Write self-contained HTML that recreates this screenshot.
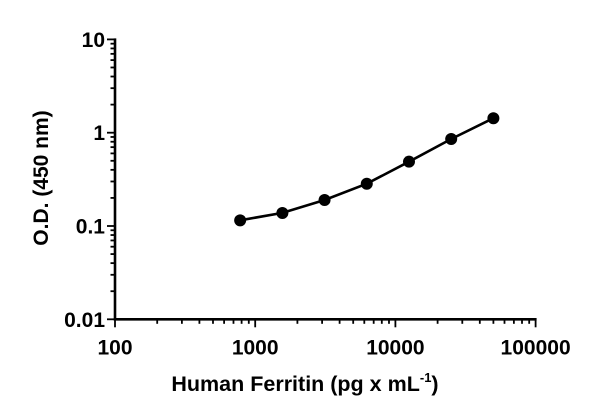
<!DOCTYPE html>
<html><head><meta charset="utf-8"><style>
html,body{margin:0;padding:0;background:#fff;}
svg{display:block;font-family:"Liberation Sans",Arial,sans-serif;font-weight:bold;}
</style></head><body>
<svg id="chart" width="600" height="414" viewBox="0 0 600 414">
<g id="axes"></g>
<g id="series"></g>
<text x="305" y="391" text-anchor="middle" font-size="21.5">Human Ferritin (pg x mL<tspan dy="-9" font-size="13">-1</tspan><tspan dy="9">)</tspan></text>
<text transform="translate(48,178) rotate(-90)" text-anchor="middle" font-size="21">O.D. (450 nm)</text>
</svg>
<script>
const concentrations = [781, 1563, 3125, 6250, 12500, 25000, 50000];
const odValues = [0.115, 0.138, 0.190, 0.284, 0.489, 0.855, 1.43];
const xTickLabels = ["100", "1000", "10000", "100000"];
const yTickLabels = ["0.01", "0.1", "1", "10"];

const NS = "http://www.w3.org/2000/svg";
const X0 = 115, XPD = 140.2, Y0 = 319.3, YPD = 93.3;
function xs(v){ return X0 + (Math.log10(v) - 2) * XPD; }
function ys(v){ return Y0 - (Math.log10(v) + 2) * YPD; }
function mk(tag, attrs, parent){
  const e = document.createElementNS(NS, tag);
  for (const k in attrs) e.setAttribute(k, attrs[k]);
  parent.appendChild(e); return e;
}
const axes = document.getElementById('axes');
let l = mk('line', {x1:X0, y1:ys(10)-1, x2:X0, y2:Y0+1.2, stroke:'#000','stroke-width':2.6}, axes);


l = mk('line', {x1:X0-1.2, y1:Y0, x2:xs(100000)+1, y2:Y0, stroke:'#000','stroke-width':2.6}, axes);


for (let d = -2; d <= 1; d++) {
  for (let m = 1; m <= (d === 1 ? 1 : 9); m++) {
    const y = ys(m * Math.pow(10, d));
    const len = m === 1 ? 8 : 4.5;
    const t = mk('line', {x1:X0-len, y1:y, x2:X0, y2:y, stroke:'#000','stroke-width':1.8}, axes);
    
    
  }
}
yTickLabels.forEach(function(lab){
  const t = mk('text', {x:X0-10, y:ys(parseFloat(lab))+7.5, 'text-anchor':'end','font-size':21}, axes);
  t.textContent = lab;
  
  
});
for (let d = 2; d <= 5; d++) {
  for (let m = 1; m <= (d === 5 ? 1 : 9); m++) {
    const x = xs(m * Math.pow(10, d));
    const len = m === 1 ? 8 : 4.5;
    const t = mk('line', {x1:x, y1:Y0, x2:x, y2:Y0+len, stroke:'#000','stroke-width':1.8}, axes);
    
    
  }
}
xTickLabels.forEach(function(lab){
  const t = mk('text', {x:xs(parseFloat(lab)), y:Y0+35, 'text-anchor':'middle','font-size':21}, axes);
  t.textContent = lab;
  
  
});
const ser = document.getElementById('series');
const pts = concentrations.map(function(c,i){ return xs(c).toFixed(1)+','+ys(odValues[i]).toFixed(1); }).join(' ');
const pl = mk('polyline', {points:pts, fill:'none', stroke:'#000','stroke-width':2.6}, ser);


concentrations.forEach(function(c,i){
  const p = mk('circle', {cx:xs(c), cy:ys(odValues[i]), r:6, fill:'#000'}, ser);
  
  
});
</script>
</body></html>
